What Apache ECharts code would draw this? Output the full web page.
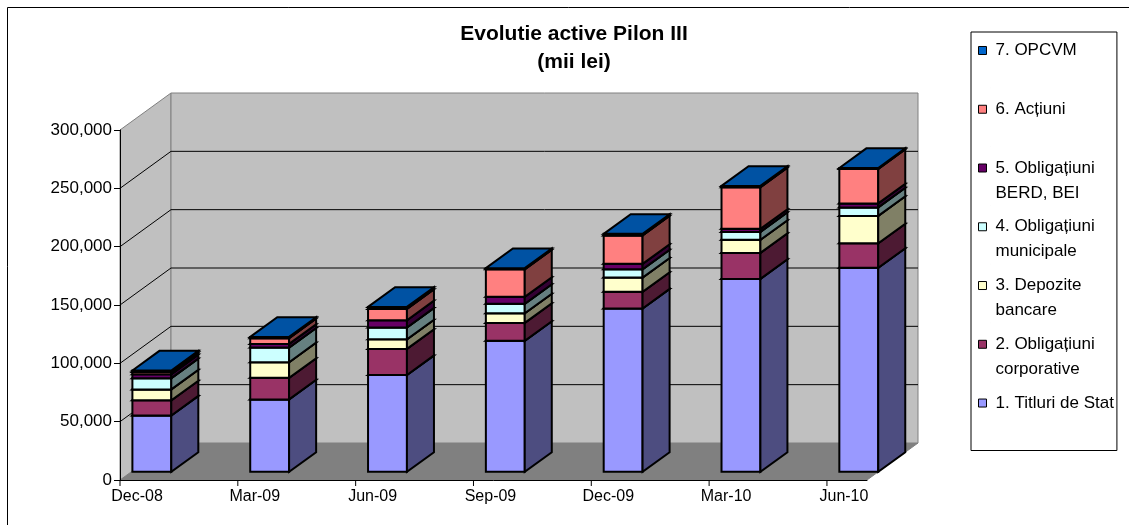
<!DOCTYPE html>
<html lang="ro">
<head>
<meta charset="UTF-8">
<title>Evolutie active Pilon III</title>
<script src="https://cdn.jsdelivr.net/npm/echarts@6/dist/echarts.min.js"></script>
<style>
    html, body { margin: 0; padding: 0; background: #fff; }
    #main { width: 1129px; height: 525px; }
</style>
</head>
<body>
<div id="main"></div>
<script>
// trimestre
var categories = ['Dec-08', 'Mar-09', 'Jun-09', 'Sep-09', 'Dec-09', 'Mar-10', 'Jun-10'];

// valori (mii lei)
var titluriStat     = [48300, 62100, 83000, 112300, 140000, 165400, 174900];
var oblCorporative  = [13000, 18500, 22400, 15400, 14300, 22300, 21000];
var depoziteBancare = [9400, 13400, 8200, 8200, 12200, 11200, 23500];
var oblMunicipale   = [9600, 12500, 10100, 8100, 7100, 6800, 7300];
var oblBerdBei      = [3400, 3200, 6300, 6000, 4700, 2600, 3400];
var actiuni         = [2000, 4900, 9700, 23600, 24400, 35700, 29600];
var opcvm           = [1200, 1100, 1700, 1000, 1300, 1100, 800];

var seriesNames = ['1. Titluri de Stat', '2. Obligațiuni\ncorporative', '3. Depozite\nbancare',
    '4. Obligațiuni\nmunicipale', '5. Obligațiuni\nBERD, BEI', '6. Acțiuni', '7. OPCVM'];
var seriesValues = [titluriStat, oblCorporative, depoziteBancare, oblMunicipale, oblBerdBei, actiuni, opcvm];

// axa valorilor
var yMax = 300000;
var yStep = 50000;

// culori: fata, lateral, capac
var frontColors = ['#9999FF', '#993366', '#FFFFCC', '#CCFFFF', '#660066', '#FF8080', '#0066CC'];
var sideColors  = ['#4D4D80', '#4D1A33', '#808066', '#668080', '#330033', '#804040', '#003366'];
var topColors   = ['#7A7ACC', '#7A2952', '#CCCCA3', '#A3CCCC', '#520052', '#CC6666', '#0052A3'];

var FONT = 'Liberation Sans, Arial, sans-serif';
var xMax = 6.34;            // latimea podelei in unitati de categorie
var DEPTH = [51, -37];      // adancimea peretilor (px)
var BAR_L = 0.01, BAR_R = 0.34;
var BAR_FRONT = 0.22, BAR_DEPTH = 0.53;

function fmt(v) {
    return Number(v).toLocaleString('en-US');
}

function poly(points, fill, stroke, lw) {
    return {type: 'polygon', shape: {points: points}, style: {fill: fill, stroke: stroke, lineWidth: lw}};
}
function line(a, b, stroke) {
    return {type: 'line', shape: {x1: a[0], y1: a[1], x2: b[0], y2: b[1]}, style: {stroke: stroke, lineWidth: 1}};
}

// pereti, podea, linii de grila
function renderWalls(params, api) {
    var dx = DEPTH[0], dy = DEPTH[1];
    var o = api.coord([0, 0]), t = api.coord([0, yMax]), r = api.coord([xMax, 0]);
    var ch = [];
    ch.push(poly([[o[0], o[1]], [r[0], r[1]], [r[0] + dx, r[1] + dy], [o[0] + dx, o[1] + dy]], '#808080', '#808080', 1));
    ch.push(poly([[o[0], o[1]], [t[0], t[1]], [t[0] + dx, t[1] + dy], [o[0] + dx, o[1] + dy]], '#C0C0C0', '#808080', 1));
    ch.push(poly([[t[0] + dx, t[1] + dy], [r[0] + dx, t[1] + dy], [r[0] + dx, o[1] + dy], [o[0] + dx, o[1] + dy]], '#C0C0C0', '#808080', 1));
    for (var v = yStep; v < yMax; v += yStep) {
        var p = api.coord([0, v]);
        ch.push(line(p, [p[0] + dx, p[1] + dy], '#000'));
        ch.push(line([p[0] + dx, p[1] + dy], [r[0] + dx, p[1] + dy], '#000'));
    }
    for (var i = 0; i < categories.length; i++) {
        var c = api.coord([i, 0]);
        ch.push(line(c, [c[0], c[1] + 6], '#000'));
    }
    return {type: 'group', children: ch};
}

// cutie 3D pentru un segment din stiva
function makeBox(k) {
    return function (params, api) {
        var i = api.value(0), lo = api.value(1), hi = api.value(2);
        var a = api.coord([i + BAR_L, lo]), b = api.coord([i + BAR_R, hi]);
        var fx = DEPTH[0] * BAR_FRONT, fy = DEPTH[1] * BAR_FRONT;
        var dx = DEPTH[0] * BAR_DEPTH, dy = DEPTH[1] * BAR_DEPTH;
        var x0 = a[0] + fx, x1 = b[0] + fx, y0 = a[1] + fy, y1 = b[1] + fy;
        return {
            type: 'group',
            children: [
                poly([[x0, y1], [x1, y1], [x1, y0], [x0, y0]], frontColors[k], '#000', 2),
                poly([[x1, y1], [x1 + dx, y1 + dy], [x1 + dx, y0 + dy], [x1, y0]], sideColors[k], '#000', 2),
                poly([[x0, y1], [x0 + dx, y1 + dy], [x1 + dx, y1 + dy], [x1, y1]], topColors[k], '#000', 2)
            ]
        };
    };
}

var base = categories.map(function () { return 0; });
var series = [{
    type: 'custom',
    name: 'fundal',
    coordinateSystem: 'cartesian2d',
    z: 1,
    silent: true,
    renderItem: renderWalls,
    data: [[0, 0]]
}];
seriesValues.forEach(function (vals, k) {
    var data = vals.map(function (v, i) {
        var lo = base[i];
        base[i] += v;
        return [i, lo, base[i]];
    });
    series.push({
        type: 'custom',
        name: seriesNames[k],
        coordinateSystem: 'cartesian2d',
        z: 2,
        encode: {x: 0, y: [1, 2]},
        itemStyle: {color: frontColors[k], borderColor: '#000', borderWidth: 1},
        renderItem: makeBox(k),
        data: data
    });
});

var myChart = echarts.init(document.getElementById('main'));

var option = {
    animation: false,
    backgroundColor: '#fff',
    textStyle: {fontFamily: FONT},
    title: {
        text: 'Evolutie active Pilon III\n(mii lei)',
        left: 574,
        top: 20,
        padding: 0,
        textAlign: 'center',
        textStyle: {fontFamily: FONT, fontSize: 21, fontWeight: 'bold', lineHeight: 28, color: '#000'}
    },
    legend: {
        data: seriesNames.slice().reverse(),
        orient: 'vertical',
        left: 971,
        top: 32,
        padding: [5.5, 3, 9.5, 7],
        itemGap: 7.8,
        itemWidth: 12,
        itemHeight: 50,
        icon: 'path://M0,8.5H8V16.5H0Z M0,0H0.01 M12,50H12.01',
        borderColor: '#000',
        borderWidth: 1,
        itemStyle: {borderColor: '#000', borderWidth: 1},
        textStyle: {fontFamily: FONT, fontSize: 17, lineHeight: 25, color: '#000'},
        formatter: function (name) {
            return name.indexOf('\n') < 0 ? name + '\n ' : name;
        }
    },
    grid: {left: 120, top: 130, right: 262, bottom: 45},
    xAxis: {
        type: 'value',
        min: 0,
        max: xMax,
        interval: 1,
        z: 3,
        axisLine: {show: true, lineStyle: {color: '#000', width: 1}},
        axisTick: {show: false},
        splitLine: {show: false},
        axisLabel: {
            fontFamily: FONT, fontSize: 16, color: '#000', margin: 9, padding: [0, 0, 0, 34],
            formatter: function (v) {
                return Number.isInteger(v) && categories[v] ? categories[v] : '';
            }
        }
    },
    yAxis: {
        type: 'value',
        min: 0,
        max: yMax,
        interval: yStep,
        z: 3,
        axisLine: {show: true, lineStyle: {color: '#000', width: 1}},
        axisTick: {show: true, length: 6, lineStyle: {color: '#000'}},
        splitLine: {show: false},
        axisLabel: {fontFamily: FONT, fontSize: 17, color: '#000', margin: 8, formatter: fmt}
    },
    graphic: [{
        type: 'rect',
        silent: true,
        shape: {x: 7.5, y: 7.5, width: 1130, height: 530},
        style: {fill: null, stroke: '#000', lineWidth: 1}
    }],
    series: series
};

myChart.setOption(option);
</script>
</body>
</html>
